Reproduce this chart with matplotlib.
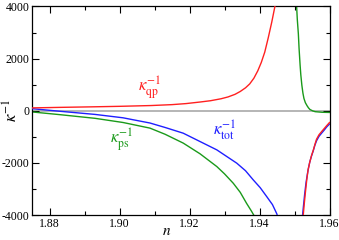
import matplotlib
matplotlib.use("Agg")
import matplotlib.pyplot as plt
from matplotlib.ticker import MultipleLocator

plt.rcParams['mathtext.fontset'] = 'stix'
plt.rcParams['font.family'] = ['Liberation Serif', 'DejaVu Serif']
plt.rcParams['axes.unicode_minus'] = False

# kappa_qp^-1 (red), left branch and right branch
qp_n1 = [1.875, 1.883, 1.892, 1.900, 1.909, 1.915, 1.919, 1.923, 1.926, 1.929, 1.931, 1.933, 1.9345, 1.936, 1.9372,
         1.9384, 1.9395, 1.9405, 1.9415, 1.9425, 1.9435, 1.9444, 1.9455]
qp_v1 = [110, 130, 150, 170, 200, 235, 275, 335, 385, 460, 530, 630, 740, 880, 1030,
         1250, 1530, 1850, 2250, 2800, 3400, 4000, 5000]
qp_n2 = [1.9522, 1.9525, 1.9528, 1.9531, 1.9535, 1.9539, 1.9544, 1.9549, 1.9554, 1.9559, 1.9563, 1.9570, 1.9578, 1.9585, 1.9592, 1.9600]
qp_v2 = [-4500, -4000, -3550, -3150, -2650, -2250, -1950, -1700, -1500, -1260, -1090, -920, -790, -680, -570, -450]

# kappa_ps^-1 (green)
ps_n1 = [1.875, 1.883, 1.893, 1.901, 1.9087, 1.913, 1.9182, 1.923, 1.9278, 1.930, 1.9325, 1.9345, 1.9363, 1.9377, 1.9390, 1.9400]
ps_v1 = [-45, -150, -290, -450, -666, -900, -1240, -1650, -2140, -2420, -2780, -3130, -3550, -3850, -4150, -4400]
ps_n2 = [1.9504, 1.9506, 1.9508, 1.9511, 1.9513, 1.9516, 1.9518, 1.9521, 1.9524, 1.9527, 1.9531, 1.9536, 1.9540,
         1.9544, 1.9552, 1.9559, 1.9579, 1.9600]
ps_v2 = [5000, 4010, 3500, 2950, 2400, 1750, 1380, 980, 680, 470, 310, 190, 110,
         50, -5, -35, -58, -65]

# kappa_tot^-1 (blue)
tot_n1 = [1.875, 1.883, 1.893, 1.901, 1.9087, 1.913, 1.9182, 1.923, 1.9278, 1.9335, 1.936, 1.9382, 1.9402, 1.9421,
          1.9437, 1.9449, 1.9458]
tot_v1 = [80, -20, -140, -270, -470, -640, -860, -1180, -1500, -2010, -2300, -2650, -2950, -3300,
          -3600, -3940, -4300]
tot_n2 = [1.9520, 1.9523, 1.9526, 1.9529, 1.9533, 1.9538, 1.9543, 1.9548, 1.9553, 1.9558, 1.9563, 1.9570, 1.9578, 1.9585, 1.9592, 1.9600]
tot_v2 = [-4500, -4000, -3600, -3200, -2750, -2330, -2000, -1760, -1560, -1330, -1150, -980, -850, -740, -620, -510]

x_ticks = [1.88, 1.90, 1.92, 1.94, 1.96]
x_ticklabels = ['1.88', '1.90', '1.92', '1.94', '1.96']
y_ticks = [-4000, -2000, 0, 2000, 4000]
y_ticklabels = ['-4000', '-2000', '0', '2000', '4000']

fig = plt.figure(figsize=(3.39, 2.40), dpi=100)
ax = fig.add_axes([0.0944, 0.104, 0.8776, 0.869])

ax.axhline(0, color='#b0b0b0', lw=1.3, zorder=1)
ax.plot(ps_n1, ps_v1, color='#1a9a1a', lw=1.0, zorder=2)
ax.plot(ps_n2, ps_v2, color='#1a9a1a', lw=1.0, zorder=2)
ax.plot(tot_n1, tot_v1, color='#1f1fff', lw=1.0, zorder=3)
ax.plot(tot_n2, tot_v2, color='#1f1fff', lw=1.0, zorder=3)
ax.plot(qp_n1, qp_v1, color='#ff2020', lw=1.0, zorder=4)
ax.plot(qp_n2, qp_v2, color='#ff2020', lw=1.0, zorder=4)

ax.set_xlim(1.875, 1.96)
ax.set_ylim(-4000, 4000)
ax.xaxis.set_minor_locator(MultipleLocator(0.01))
ax.yaxis.set_minor_locator(MultipleLocator(1000))
ax.set_xticks(x_ticks)
ax.set_xticklabels(x_ticklabels)
ax.set_yticks(y_ticks)
ax.set_yticklabels(y_ticklabels)
ax.tick_params(which='both', direction='in', top=True, right=True, labelsize=8.5, pad=2)
ax.tick_params(which='major', length=5, width=0.8)
ax.tick_params(which='minor', length=3, width=0.8)
for s in ax.spines.values():
    s.set_linewidth(0.9)

ax.set_xlabel(r'$n$', fontsize=11)
ax.xaxis.set_label_coords(0.454, -0.047)
ax.set_ylabel(r'$\kappa^{-1}$', fontsize=12)
ax.yaxis.set_label_coords(-0.035, 0.5)

ax.text(1.9085, 850, r'$\kappa_{\rm qp}^{-1}$', color='#ff2020', fontsize=12, ha='center', va='center')
ax.text(1.9005, -1150, r'$\kappa_{\rm ps}^{-1}$', color='#1a9a1a', fontsize=12, ha='center', va='center')
ax.text(1.9300, -750, r'$\kappa_{\rm tot}^{-1}$', color='#1f1fff', fontsize=12, ha='center', va='center')

fig.savefig('out.png', dpi=100)
